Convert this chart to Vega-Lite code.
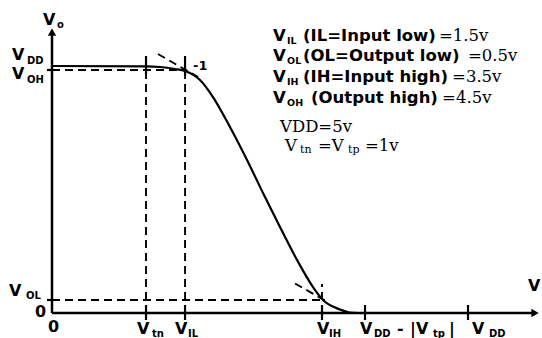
{
  "$schema": "https://vega.github.io/schema/vega-lite/v6.json",
  "width": 542,
  "height": 338,
  "padding": 0,
  "autosize": {"type": "none"},
  "background": "white",
  "config": {"view": {"stroke": null}},
  "encoding": {
    "x": {"field": "x", "type": "quantitative", "scale": {"domain": [-0.625, 5.889], "nice": false, "zero": false}, "axis": null},
    "y": {"field": "y", "type": "quantitative", "scale": {"domain": [-0.506, 6.336], "nice": false, "zero": false}, "axis": null}
  },
  "layer": [
    {
      "data": {"values": [
        {"x": 0, "y": 4.919, "x2": 1.599, "y2": 4.919},
        {"x": 0, "y": 0.263, "x2": 3.245, "y2": 0.263},
        {"x": 1.13, "y": 0, "x2": 1.13, "y2": 4.838},
        {"x": 1.599, "y": 0, "x2": 1.599, "y2": 4.919},
        {"x": 3.245, "y": 0, "x2": 3.245, "y2": 0.587},
        {"x": 1.274, "y": 5.243, "x2": 1.755, "y2": 4.777},
        {"x": 2.921, "y": 0.597, "x2": 3.281, "y2": 0.253}
      ]},
      "mark": {"type": "rule", "strokeDash": [8, 5], "strokeWidth": 1.9, "color": "black"},
      "encoding": {"x2": {"field": "x2"}, "y2": {"field": "y2"}}
    },
    {
      "data": {"values": [
        {"x": 0, "y": 0, "x2": 5.793, "y2": 0},
        {"x": 0, "y": 0, "x2": 0, "y2": 5.648}
      ]},
      "mark": {"type": "rule", "strokeWidth": 2.5, "color": "black"},
      "encoding": {"x2": {"field": "x2"}, "y2": {"field": "y2"}}
    },
    {
      "data": {"values": [
        {"x": 1.13, "y": -0.142, "x2": 1.13, "y2": 0.162},
        {"x": 1.599, "y": -0.142, "x2": 1.599, "y2": 0.162},
        {"x": 3.245, "y": -0.142, "x2": 3.245, "y2": 0.162},
        {"x": 3.762, "y": -0.142, "x2": 3.762, "y2": 0.162},
        {"x": 5.0, "y": -0.142, "x2": 5.0, "y2": 0.162},
        {"x": 1.13, "y": 4.838, "x2": 1.13, "y2": 5.202},
        {"x": 1.599, "y": 4.798, "x2": 1.599, "y2": 5.202},
        {"x": -0.06, "y": 4.919, "x2": 0, "y2": 4.919},
        {"x": -0.06, "y": 0.263, "x2": 0, "y2": 0.263}
      ]},
      "mark": {"type": "rule", "strokeWidth": 2.2, "color": "black"},
      "encoding": {"x2": {"field": "x2"}, "y2": {"field": "y2"}}
    },
    {
      "data": {"values": [
        {"x": 0, "y": 5.0},
        {"x": 1.13, "y": 4.994},
        {"x": 1.298, "y": 4.98},
        {"x": 1.478, "y": 4.939},
        {"x": 1.599, "y": 4.899},
        {"x": 1.779, "y": 4.717},
        {"x": 1.935, "y": 4.372},
        {"x": 2.139, "y": 3.765},
        {"x": 2.344, "y": 3.097},
        {"x": 2.536, "y": 2.429},
        {"x": 2.74, "y": 1.741},
        {"x": 2.945, "y": 1.073},
        {"x": 3.137, "y": 0.526},
        {"x": 3.257, "y": 0.263},
        {"x": 3.462, "y": 0.071},
        {"x": 3.582, "y": 0.008},
        {"x": 3.678, "y": 0}
      ]},
      "mark": {"type": "line", "interpolate": "monotone", "strokeWidth": 2.2, "color": "black"},
      "encoding": {}
    },
    {
      "data": {"values": [
        {"x": 5.805, "y": 0, "dir": "right"},
        {"x": 0, "y": 5.688, "dir": "up"}
      ]},
      "mark": {"type": "point", "filled": true, "size": 70, "color": "black", "opacity": 1},
      "encoding": {
        "shape": {"field": "dir", "type": "nominal", "scale": {"domain": ["right", "up"], "range": ["triangle-right", "triangle-up"]}, "legend": null}
      }
    },
    {
      "data": {"values": [
        {"x": -0.481, "y": 5.121, "text": "V"},
        {"x": -0.481, "y": 4.737, "text": "V"},
        {"x": -0.517, "y": 0.344, "text": "V"},
        {"x": -0.108, "y": 5.83, "text": "V"},
        {"x": 5.721, "y": 0.445, "text": "V"},
        {"x": 1.022, "y": -0.425, "text": "V"},
        {"x": 1.478, "y": -0.425, "text": "V"},
        {"x": 3.185, "y": -0.425, "text": "V"},
        {"x": 3.702, "y": -0.425, "text": "V"},
        {"x": 4.147, "y": -0.425, "text": "-"},
        {"x": 4.303, "y": -0.425, "text": "|V"},
        {"x": 4.772, "y": -0.425, "text": "|"},
        {"x": 5.048, "y": -0.425, "text": "V"},
        {"x": -0.204, "y": -0.081, "text": "0"},
        {"x": -0.048, "y": -0.385, "text": "0"}
      ]},
      "mark": {"type": "text", "font": "DejaVu Sans", "fontWeight": "bold", "fontSize": 16, "align": "left", "baseline": "alphabetic", "color": "black"},
      "encoding": {"text": {"field": "text"}}
    },
    {
      "data": {"values": [
        {"x": -0.3, "y": 5.04, "text": "DD"},
        {"x": -0.3, "y": 4.656, "text": "OH"},
        {"x": -0.3125, "y": 0.283, "text": "OL"},
        {"x": 0.06, "y": 5.769, "text": "o"},
        {"x": 1.202, "y": -0.486, "text": "tn"},
        {"x": 1.635, "y": -0.486, "text": "IL"},
        {"x": 3.329, "y": -0.486, "text": "IH"},
        {"x": 3.87, "y": -0.486, "text": "DD"},
        {"x": 4.579, "y": -0.486, "text": "tp"},
        {"x": 5.252, "y": -0.486, "text": "DD"}
      ]},
      "mark": {"type": "text", "font": "DejaVu Sans", "fontWeight": "bold", "fontSize": 10, "align": "left", "baseline": "alphabetic", "color": "black"},
      "encoding": {"text": {"field": "text"}}
    },
    {
      "data": {"values": [
        {"x": 1.695, "y": 4.919, "text": "-1"}
      ]},
      "mark": {"type": "text", "font": "DejaVu Sans", "fontWeight": "bold", "fontSize": 13, "align": "left", "baseline": "alphabetic", "color": "black"},
      "encoding": {"text": {"field": "text"}}
    },
    {
      "data": {"values": [
        {"x": 2.656, "y": 5.506, "text": "V"},
        {"x": 3.017, "y": 5.506, "text": "(IL=Input low)"},
        {"x": 2.656, "y": 5.101, "text": "V"},
        {"x": 3.017, "y": 5.101, "text": "(OL=Output low)"},
        {"x": 2.656, "y": 4.676, "text": "V"},
        {"x": 3.017, "y": 4.676, "text": "(IH=Input high)"},
        {"x": 2.656, "y": 4.251, "text": "V"},
        {"x": 3.113, "y": 4.251, "text": "(Output high)"}
      ]},
      "mark": {"type": "text", "font": "DejaVu Sans", "fontWeight": "bold", "fontSize": 16.5, "align": "left", "baseline": "alphabetic", "color": "black"},
      "encoding": {"text": {"field": "text"}}
    },
    {
      "data": {"values": [
        {"x": 2.825, "y": 5.445, "text": "IL"},
        {"x": 2.825, "y": 5.04, "text": "OL"},
        {"x": 2.825, "y": 4.615, "text": "IH"},
        {"x": 2.825, "y": 4.19, "text": "OH"}
      ]},
      "mark": {"type": "text", "font": "DejaVu Sans", "fontWeight": "bold", "fontSize": 9.5, "align": "left", "baseline": "alphabetic", "color": "black"},
      "encoding": {"text": {"field": "text"}}
    },
    {
      "data": {"values": [
        {"x": 4.651, "y": 5.506, "text": "=1.5v"},
        {"x": 5.0, "y": 5.101, "text": "=0.5v"},
        {"x": 4.808, "y": 4.676, "text": "=3.5v"},
        {"x": 4.688, "y": 4.251, "text": "=4.5v"},
        {"x": 2.74, "y": 3.664, "text": "VDD=5v"},
        {"x": 2.8, "y": 3.279, "text": "V"},
        {"x": 3.197, "y": 3.279, "text": "=V"},
        {"x": 3.762, "y": 3.279, "text": "=1v"}
      ]},
      "mark": {"type": "text", "font": "DejaVu Serif", "fontSize": 16.5, "align": "left", "baseline": "alphabetic", "color": "black"},
      "encoding": {"text": {"field": "text"}}
    },
    {
      "data": {"values": [
        {"x": 2.981, "y": 3.239, "text": "tn"},
        {"x": 3.558, "y": 3.239, "text": "tp"}
      ]},
      "mark": {"type": "text", "font": "DejaVu Serif", "fontSize": 11, "align": "left", "baseline": "alphabetic", "color": "black"},
      "encoding": {"text": {"field": "text"}}
    }
  ]
}
